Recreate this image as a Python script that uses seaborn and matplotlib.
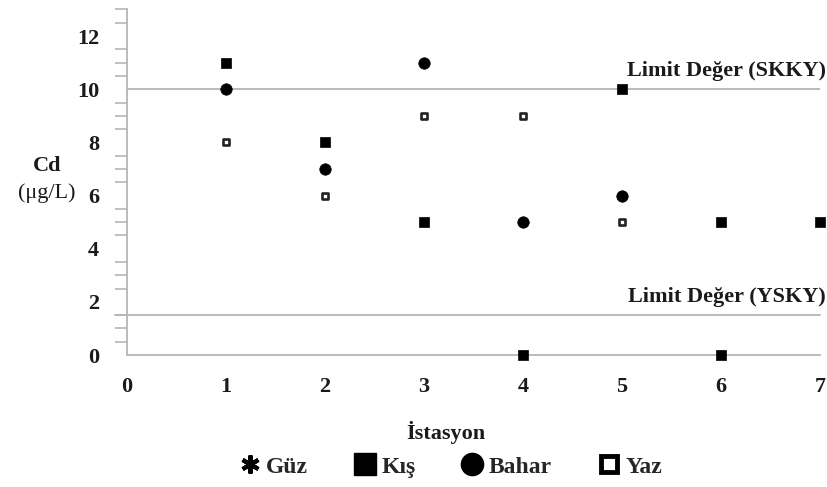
import matplotlib
matplotlib.use("Agg")
import matplotlib.pyplot as plt
import seaborn as sns
import pandas as pd
from matplotlib.ticker import MultipleLocator
from matplotlib.lines import Line2D

# Data
kis_x = [1, 2, 3, 4, 5, 6, 6, 7]
kis_y = [11, 8, 5, 0, 10, 5, 0, 5]
bahar_x = [1, 2, 3, 4, 5]
bahar_y = [10, 7, 11, 5, 6]
yaz_x = [1, 2, 3, 4, 5]
yaz_y = [8, 6, 9, 9, 5]
guz_x = []
guz_y = []
limit_skky = 10
limit_ysky = 1.5
x_ticks = [0, 1, 2, 3, 4, 5, 6, 7]
y_ticks = [0, 2, 4, 6, 8, 10, 12]

sns.set_style("white")
plt.rcParams['font.family'] = ['Liberation Serif', 'DejaVu Serif']

fig = plt.figure(figsize=(8.28, 4.87), dpi=100)
ax = fig.add_axes([0.1534, 0.271, 0.837, 0.7095])

grey = "#b5b5b5"
txt = "#1a1a1a"
ax.axhline(limit_skky, color=grey, lw=1.3, zorder=1)
ax.axhline(limit_ysky, xmin=-0.018, xmax=1.0, color=grey, lw=1.3, zorder=1, clip_on=False)

kis = pd.DataFrame({"x": kis_x, "y": kis_y})
bahar = pd.DataFrame({"x": bahar_x, "y": bahar_y})
yaz = pd.DataFrame({"x": yaz_x, "y": yaz_y})

sns.scatterplot(data=kis, x="x", y="y", ax=ax, marker="s", s=58, color="black",
                edgecolor="black", linewidth=0.5, clip_on=False, zorder=3)
sns.scatterplot(data=bahar, x="x", y="y", ax=ax, marker="o", s=68, color="black",
                edgecolor="black", linewidth=0.5, clip_on=False, zorder=3)
sns.scatterplot(data=yaz, x="x", y="y", ax=ax, marker="s", s=24, color="white",
                edgecolor="#222222", linewidth=1.9, clip_on=False, zorder=3)

ax.set_xlim(0, 7)
ax.set_ylim(0, 13)
ax.set_xticks(x_ticks)
ax.set_yticks(y_ticks)
ax.yaxis.set_minor_locator(MultipleLocator(0.5))

for s in ["top", "right"]:
    ax.spines[s].set_visible(False)
for s in ["left", "bottom"]:
    ax.spines[s].set_color(grey)
    ax.spines[s].set_linewidth(1.3)

ax.tick_params(axis="x", direction="out", length=13, width=1.2, color=grey,
               labelsize=16, pad=3, labelcolor=txt)
ax.tick_params(axis="y", which="major", direction="out", length=17, width=1.2,
               color=grey, labelsize=16, pad=3, labelcolor=txt)
ax.tick_params(axis="y", which="minor", direction="out", length=9, width=1.2,
               color=grey, left=True)
for lab in ax.get_xticklabels() + ax.get_yticklabels():
    lab.set_fontweight("bold")

ax.set_xlabel("")
ax.set_ylabel("")

ax.text(7.06, limit_skky + 0.3, "Limit Değer (SKKY)", ha="right", va="bottom",
        fontsize=16, fontweight="bold", color=txt)
ax.text(7.06, limit_ysky + 0.3, "Limit Değer (YSKY)", ha="right", va="bottom",
        fontsize=16, fontweight="bold", color=txt)

fig.text(47 / 828, 1 - 166 / 487, "Cd", ha="center", va="center",
         fontsize=16, fontweight="bold", color=txt)
fig.text(47 / 828, 1 - 193 / 487, "(μg/L)", ha="center", va="center",
         fontsize=16, color=txt)
fig.text(446 / 828, 1 - 433 / 487, "İstasyon", ha="center", va="center",
         fontsize=16, fontweight="bold", color=txt)

handles = [
    Line2D([], [], marker=(6, 2, 0), color="black", markersize=13, markeredgewidth=3, linestyle="none"),
    Line2D([], [], marker="s", color="black", markersize=16, linestyle="none"),
    Line2D([], [], marker="o", color="black", markersize=16, linestyle="none"),
    Line2D([], [], marker="s", markerfacecolor="white", markeredgecolor="black", markersize=12,
           markeredgewidth=3.5, linestyle="none"),
]
labels = ["Güz", "Kış", "Bahar", "Yaz"]
fig.legend(handles, labels, loc="center", bbox_to_anchor=(450 / 828, 1 - 467 / 487), ncol=4,
           frameon=False, prop={"size": 17, "weight": "bold"}, handlelength=1.0,
           handletextpad=0.2, columnspacing=1.9)

fig.savefig("out.png", dpi=100)
